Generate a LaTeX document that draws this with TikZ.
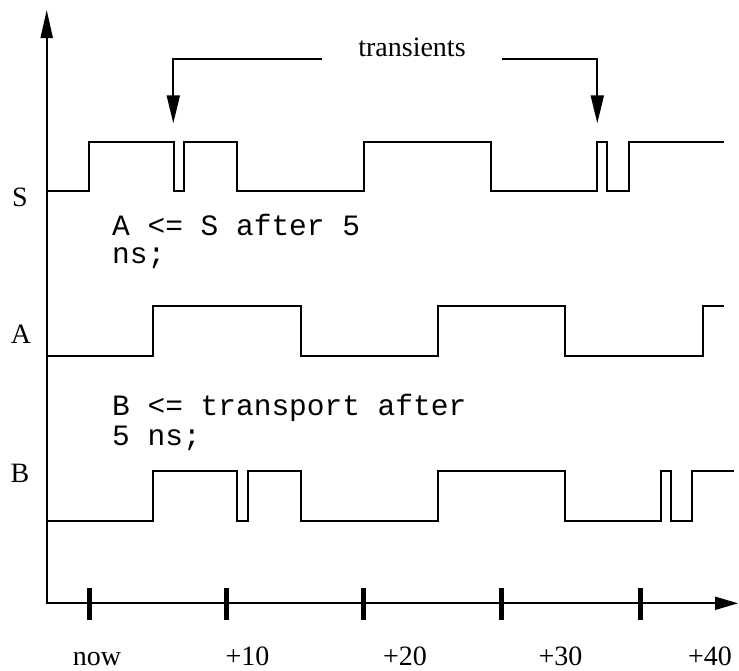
\documentclass[tikz,border=0pt]{standalone}
\usepackage{fontspec}
\setmainfont{Liberation Serif}
\newfontfamily\codefont{Liberation Mono}
\usetikzlibrary{arrows.meta}

\tikzset{
  sig/.style={line width=2.3pt, line join=miter},
  axisline/.style={line width=2pt},
  tickmark/.style={line width=5pt},
  pointer/.style={line width=2pt, -{Triangle[length=28pt,width=13pt]}},
  lbl/.style={font=\fontsize{28}{30}\selectfont, inner sep=0pt, anchor=base},
  code/.style={font=\codefont\fontsize{29.5}{29}\selectfont, inner sep=0pt,
               anchor=base west},
}

\begin{document}
\begin{tikzpicture}[x=1pt, y=-1pt]
  \useasboundingbox (0,0) rectangle (739,670);

  % axes
  \coordinate (top) at (46.7,10);
  \coordinate (origin) at (46.7,603.3);
  \coordinate (right) at (738,603.3);
  \draw[axisline, {Triangle[length=28pt,width=12pt]}-{Triangle[length=23pt,width=13pt]}]
    (top) -- (origin) -- (right);

  % time ticks
  \foreach \t/\x in {t0/89.3, t1/226.7, t2/363.3, t3/501.7, t4/640} {
    \coordinate (\t a) at (\x,588);
    \coordinate (\t b) at (\x,620);
    \draw[tickmark] (\t a) -- (\t b);
  }

  % time labels
  \node[lbl] (now) at (97,665) {now};
  \node[lbl] (p10) at (247.5,665) {+10};
  \node[lbl] (p20) at (405,665) {+20};
  \node[lbl] (p30) at (560.5,665) {+30};
  \node[lbl] (p40) at (710,665) {+40};

  % signal names
  \node[lbl] (nS) at (20,206) {S};
  \node[lbl] (nA) at (21,343) {A};
  \node[lbl] (nB) at (20,482) {B};

  % signal S (with two transients)
  \draw[sig] (46.7,190.7) -- (89,190.7) -- (89,141.7) -- (174,141.7)
    -- (174,190.7) -- (184.3,190.7) -- (184.3,141.7) -- (237.3,141.7)
    -- (237.3,190.7) -- (364.3,190.7) -- (364.3,141.7) -- (490.7,141.7)
    -- (490.7,190.7) -- (597.3,190.7) -- (597.3,141.7) -- (607.3,141.7)
    -- (607.3,190.7) -- (629,190.7) -- (629,141.7) -- (724,141.7);

  % signal A (inertial delay)
  \draw[sig] (46.7,355.7) -- (152.7,355.7) -- (152.7,306) -- (301,306)
    -- (301,355.7) -- (438.3,355.7) -- (438.3,306) -- (565,306)
    -- (565,355.7) -- (703.3,355.7) -- (703.3,306) -- (724,306);

  % signal B (transport delay)
  \draw[sig] (46.7,520.7) -- (152.7,520.7) -- (152.7,471) -- (237.3,471)
    -- (237.3,520.7) -- (248.3,520.7) -- (248.3,471) -- (301,471)
    -- (301,520.7) -- (438.3,520.7) -- (438.3,471) -- (565,471)
    -- (565,520.7) -- (661.3,520.7) -- (661.3,471) -- (671.3,471)
    -- (671.3,520.7) -- (692.3,520.7) -- (692.3,471) -- (734,471);

  % assignments, one node per printed line
  \node[code] (codeA1) at (112,235) {A <= S after 5};
  \node[code] (codeA2) at (112,263) {ns;};
  \node[code] (codeB1) at (112,415) {B <= transport after};
  \node[code] (codeB2) at (112,445) {5 ns;};

  % transient pointers
  \node[lbl] (trans) at (412,56) {transients};
  \coordinate (lstart) at (321.7,59);
  \coordinate (lbend) at (173.3,59);
  \coordinate (ltip) at (173.3,123.3);
  \coordinate (rstart) at (502.3,59);
  \coordinate (rbend) at (597.3,59);
  \coordinate (rtip) at (597.3,123.3);
  \draw[pointer] (lstart) -- (lbend) -- (ltip);
  \draw[pointer] (rstart) -- (rbend) -- (rtip);
\end{tikzpicture}
\end{document}
